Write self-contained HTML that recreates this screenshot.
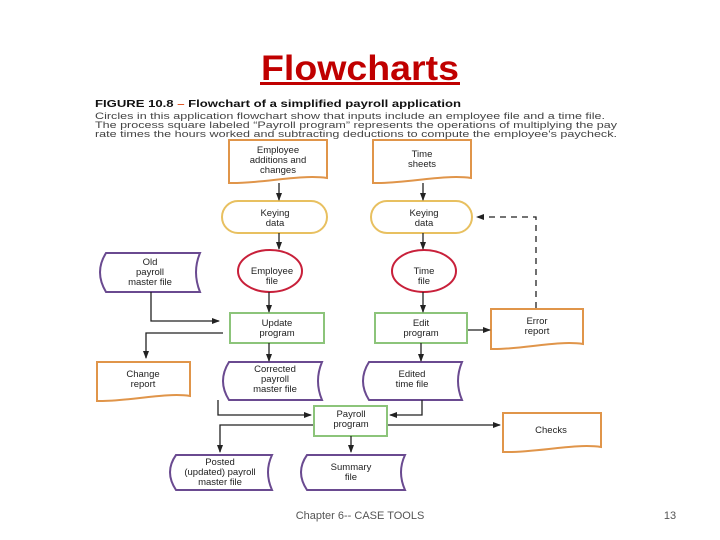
<!DOCTYPE html>
<html><head><meta charset="utf-8"><style>
html,body{margin:0;padding:0;background:#fff;}
svg{display:block;}
text{font-family:"Liberation Sans",sans-serif;}
</style></head><body>
<svg width="720" height="540" viewBox="0 0 720 540" xmlns="http://www.w3.org/2000/svg">
<defs>
<marker id="a" markerWidth="8" markerHeight="8" refX="7" refY="4" orient="auto" markerUnits="userSpaceOnUse"><path d="M0,1 L8,4 L0,7 Z" fill="#222"/></marker>
</defs>
<rect width="720" height="540" fill="#fff"/>
<text x="360" y="80" text-anchor="middle" font-size="35" font-weight="bold" fill="#c00000" textLength="198" lengthAdjust="spacingAndGlyphs">Flowcharts</text>
<rect x="260" y="82" width="200" height="3" fill="#c00000"/>

<text x="95" y="107" font-size="10.5" font-weight="bold" fill="#111" textLength="366" lengthAdjust="spacingAndGlyphs">FIGURE 10.8  <tspan fill="#e05a2a">–</tspan>  Flowchart of a simplified payroll application</text>
<g font-size="9" fill="#444">
<text x="95" y="119" textLength="510" lengthAdjust="spacingAndGlyphs">Circles in this application flowchart show that inputs include an employee file and a time file.</text>
<text x="95" y="128" textLength="522" lengthAdjust="spacingAndGlyphs">The process square labeled “Payroll program” represents the operations of multiplying the pay</text>
<text x="95" y="137" textLength="522" lengthAdjust="spacingAndGlyphs">rate times the hours worked and subtracting deductions to compute the employee's paycheck.</text>
</g>

<g fill="#fff" stroke-width="2">
<g stroke="#e0954a">
<path d="M229 140 H327 V178 C300 174 260 184 229 183 Z"/>
<path d="M373 140 H471 V178 C444 174 404 184 373 183 Z"/>
<path d="M491 309 H583 V344 C558 340 520 350 491 349 Z"/>
<path d="M97 362 H190 V396 C166 392 126 402 97 401 Z"/>
<path d="M503 413 H601 V447 C575 443 535 453 503 452 Z"/>
</g>
<g stroke="#e8c060">
<rect x="222" y="201" width="105" height="32" rx="16"/>
<rect x="371" y="201" width="101" height="32" rx="16"/>
</g>
<g stroke="#c8203a">
<ellipse cx="270" cy="271" rx="32" ry="21"/>
<ellipse cx="424" cy="271" rx="32" ry="21"/>
</g>
<g stroke="#8cc47a">
<rect x="230" y="313" width="94" height="30"/>
<rect x="375" y="313" width="92" height="30"/>
<rect x="314" y="406" width="73" height="30"/>
</g>
<g stroke="#6a4a90">
<path d="M106 253 H200 Q192 272 200 292 H106 Q94 272 106 253 Z"/>
<path d="M229 362 H322 Q314 381 322 400 H229 Q217 381 229 362 Z"/>
<path d="M369 362 H462 Q454 381 462 400 H369 Q357 381 369 362 Z"/>
<path d="M176 455 H272 Q264 472 272 490 H176 Q164 472 176 455 Z"/>
<path d="M307 455 H405 Q397 472 405 490 H307 Q295 472 307 455 Z"/>
</g>
</g>

<g stroke="#222" stroke-width="1.3" fill="none" marker-end="url(#a)">
<line x1="279" y1="183" x2="279" y2="200"/>
<line x1="423" y1="183" x2="423" y2="200"/>
<line x1="279" y1="233" x2="279" y2="249"/>
<line x1="423" y1="233" x2="423" y2="249"/>
<line x1="269" y1="292" x2="269" y2="312"/>
<line x1="423" y1="292" x2="423" y2="312"/>
<polyline points="151,292 151,321 219,321"/>
<polyline points="223,333 146,333 146,358"/>
<line x1="269" y1="343" x2="269" y2="361"/>
<line x1="421" y1="343" x2="421" y2="361"/>
<line x1="468" y1="330" x2="490" y2="330"/>
<polyline points="218,400 218,415 311,415"/>
<polyline points="422,400 422,415 390,415"/>
<polyline points="313,425 220,425 220,452"/>
<line x1="351" y1="436" x2="351" y2="452"/>
<line x1="388" y1="425" x2="500" y2="425"/>
<polyline points="536,308 536,217 477,217" stroke-dasharray="6,5"/>
</g>

<g font-size="9.5" fill="#222" text-anchor="middle">
<text x="278" y="153">Employee</text><text x="278" y="163">additions and</text><text x="278" y="173">changes</text>
<text x="422" y="157">Time</text><text x="422" y="167">sheets</text>
<text x="275" y="216">Keying</text><text x="275" y="226">data</text>
<text x="424" y="216">Keying</text><text x="424" y="226">data</text>
<text x="150" y="265">Old</text><text x="150" y="275">payroll</text><text x="150" y="285">master file</text>
<text x="272" y="274">Employee</text><text x="272" y="284">file</text>
<text x="424" y="274">Time</text><text x="424" y="284">file</text>
<text x="277" y="326">Update</text><text x="277" y="336">program</text>
<text x="421" y="326">Edit</text><text x="421" y="336">program</text>
<text x="537" y="324">Error</text><text x="537" y="334">report</text>
<text x="143" y="377">Change</text><text x="143" y="387">report</text>
<text x="275" y="372">Corrected</text><text x="275" y="382">payroll</text><text x="275" y="392">master file</text>
<text x="412" y="377">Edited</text><text x="412" y="387">time file</text>
<text x="351" y="417">Payroll</text><text x="351" y="427">program</text>
<text x="551" y="433">Checks</text>
<text x="220" y="465">Posted</text><text x="220" y="475">(updated) payroll</text><text x="220" y="485">master file</text>
<text x="351" y="470">Summary</text><text x="351" y="480">file</text>
</g>

<text x="360" y="519" text-anchor="middle" font-size="11" fill="#555">Chapter 6-- CASE TOOLS</text>
<text x="670" y="519" text-anchor="middle" font-size="11" fill="#555">13</text>
</svg>
</body></html>
